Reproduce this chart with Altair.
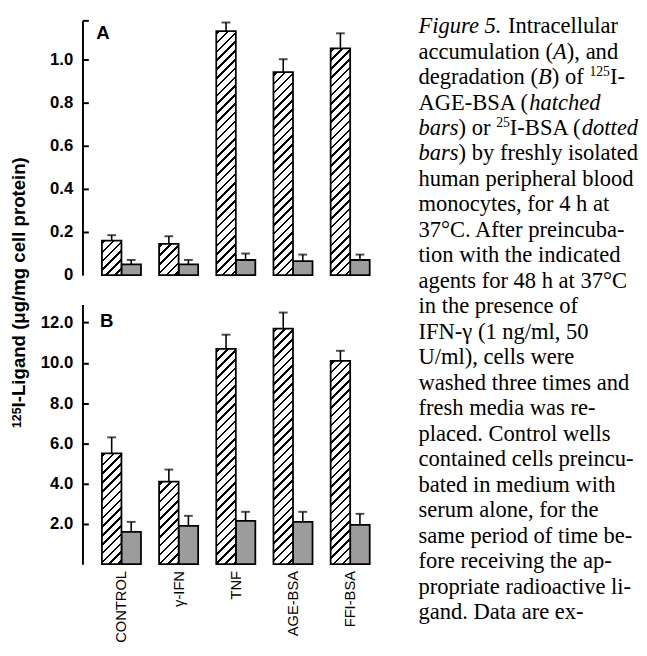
import altair as alt
import pandas as pd

# ---------------- data ----------------
categories = ["CONTROL", "γ-IFN", "TNF", "AGE-BSA", "FFI-BSA"]
series = ["hatched", "dotted"]

# Panel A: intracellular accumulation (bar value and top of error whisker)
a_hatched = [0.16, 0.145, 1.13, 0.94, 1.05]
a_hatched_err = [0.185, 0.18, 1.17, 1.00, 1.12]
a_dotted = [0.05, 0.05, 0.07, 0.065, 0.07]
a_dotted_err = [0.07, 0.07, 0.10, 0.095, 0.095]

# Panel B: degradation
b_hatched = [5.5, 4.1, 10.7, 11.7, 10.1]
b_hatched_err = [6.3, 4.7, 11.4, 12.5, 10.6]
b_dotted = [1.6, 1.9, 2.15, 2.1, 1.95]
b_dotted_err = [2.1, 2.4, 2.6, 2.6, 2.5]

a_ticks = [0, 0.2, 0.4, 0.6, 0.8, 1.0]
b_ticks = [2, 4, 6, 8, 10, 12]

y_title_sup = "125"
y_title_main = "I-Ligand (μg/mg cell protein)"

caption_lines = [
    [("Figure 5.", "i"), (" Intracellular", "r")],
    [("accumulation (", "r"), ("A", "i"), ("), and", "r")],
    [("degradation (", "r"), ("B", "i"), (") of ", "r"), ("125", "s"), ("I-", "r")],
    [("AGE-BSA (", "r"), ("hatched", "i")],
    [("bars", "i"), (") or ", "r"), ("25", "s"), ("I-BSA (", "r"), ("dotted", "i")],
    [("bars", "i"), (") by freshly isolated", "r")],
    [("human peripheral blood", "r")],
    [("monocytes, for 4 h at", "r")],
    [("37°C. After preincuba-", "r")],
    [("tion with the indicated", "r")],
    [("agents for 48 h at 37°C", "r")],
    [("in the presence of", "r")],
    [("IFN-γ (1 ng/ml, 50", "r")],
    [("U/ml), cells were", "r")],
    [("washed three times and", "r")],
    [("fresh media was re-", "r")],
    [("placed. Control wells", "r")],
    [("contained cells preincu-", "r")],
    [("bated in medium with", "r")],
    [("serum alone, for the", "r")],
    [("same period of time be-", "r")],
    [("fore receiving the ap-", "r")],
    [("propriate radioactive li-", "r")],
    [("gand. Data are ex-", "r")],
]

# ---------------- layout / style ----------------
W = 313
TOP_A = 6                      # blank band above panel A inside its view
HA, HB = 260, 265
YMAX_A, YMAX_B = 1.18, 12.9
PAD_IN, PAD_OUT = 0.317, 0.34
SANS = "Liberation Sans"
SERIF = "Liberation Serif"
DOT_FILL = "#9c9c9c"
HATCH_PERIOD, HATCH_LW = 9.0, 2.6
TICK_LABEL_SIZE = 17

step = W / (len(categories) - PAD_IN + 2 * PAD_OUT)
sub_w = step * (1 - PAD_IN) / 2


def hatch(w, h):
    total = w + h
    lam = total / (w * w + h * h)
    stops = [alt.GradientStop(offset=0, color="white")]
    pos = 2.0
    while pos < total:
        a = pos / total
        b = min((pos + HATCH_LW) / total, 1.0)
        stops += [alt.GradientStop(offset=a, color="white"),
                  alt.GradientStop(offset=a, color="black"),
                  alt.GradientStop(offset=b, color="black"),
                  alt.GradientStop(offset=b, color="white")]
        pos += HATCH_PERIOD
    stops.append(alt.GradientStop(offset=1, color="white"))
    return alt.LinearGradient(gradient="linear", stops=stops,
                              x1=0, y1=0, x2=w * lam, y2=h * lam)


def make_df(h, he, d, de):
    rows = []
    for i, c in enumerate(categories):
        rows.append(dict(cat=c, series="hatched", value=h[i], top=he[i]))
        rows.append(dict(cat=c, series="dotted", value=d[i], top=de[i]))
    return pd.DataFrame(rows)


def panel(df, ymax, H, top, letter, lx, ly, label_vals, label_expr, tick_vals, with_labels):
    view_h = H + top
    xs = alt.Scale(domain=categories, paddingInner=PAD_IN, paddingOuter=PAD_OUT)
    xos = alt.Scale(domain=series, paddingInner=0, paddingOuter=0)
    ys = alt.Scale(domain=[0, ymax], nice=False, zero=True, range=[view_h, top])
    xaxis = alt.Axis(labels=False, ticks=False, domain=True, domainColor="black",
                     domainWidth=2, title=None)
    X = alt.X("cat:N", scale=xs, sort=categories, axis=xaxis, title=None)
    Xn = alt.X("cat:N", scale=xs, sort=categories, axis=None)
    XO = alt.XOffset("series:N", scale=xos, sort=series)
    base = alt.Chart(df)
    left_axis = alt.Axis(values=label_vals, labelExpr=label_expr, ticks=False,
                         labelPadding=10, labelFont=SANS, labelFontWeight="bold",
                         labelFontSize=TICK_LABEL_SIZE, labelColor="black", domain=True,
                         domainColor="black", domainWidth=2, title=None, grid=False)
    right_axis = alt.Axis(orient="right", offset=-W, values=tick_vals, labels=False,
                          ticks=True, tickSize=6, tickWidth=2, tickColor="black",
                          domain=False, title=None, grid=False)
    layers = [
        base.transform_filter("datum.series == 'dotted'")
        .mark_bar(fill=DOT_FILL, stroke="black", strokeWidth=1.8)
        .encode(x=X, xOffset=XO, y=alt.Y("value:Q", scale=ys, axis=left_axis))
    ]
    hatched = df[df.series == "hatched"]
    for c, v in zip(hatched.cat, hatched.value):
        hpx = v / ymax * H
        layers.append(
            base.transform_filter(f"datum.series == 'hatched' && datum.cat == '{c}'")
            .mark_bar(fill=hatch(sub_w, hpx), stroke="black", strokeWidth=1.8)
            .encode(x=Xn, xOffset=XO, y=alt.Y("value:Q", scale=ys, axis=None))
        )
    layers.append(
        base.mark_rule(color="black", strokeWidth=1.6)
        .encode(x=Xn, xOffset=XO, y=alt.Y("value:Q", scale=ys, axis=right_axis), y2="top:Q")
    )
    layers.append(
        base.mark_tick(color="black", thickness=2, size=9)
        .encode(x=Xn, xOffset=XO, y=alt.Y("top:Q", scale=ys, axis=None))
    )
    layers.append(
        alt.Chart(pd.DataFrame({"t": [letter]}))
        .mark_text(font=SANS, fontWeight="bold", fontSize=19, align="left",
                   baseline="alphabetic", color="black")
        .encode(x=alt.value(lx), y=alt.value(ly), text="t:N")
    )
    if with_labels:
        layers.append(
            alt.Chart(pd.DataFrame({"cat": categories}))
            .mark_text(font=SANS, fontSize=15, angle=270, align="right",
                       baseline="middle", color="black")
            .encode(x=Xn, y=alt.value(view_h + 7), text="cat:N")
        )
    return alt.layer(*layers).resolve_axis(y="independent").properties(width=W, height=view_h)


df_a = make_df(a_hatched, a_hatched_err, a_dotted, a_dotted_err)
df_b = make_df(b_hatched, b_hatched_err, b_dotted, b_dotted_err)

panel_a = panel(df_a, YMAX_A, HA, TOP_A, "A", 14, TOP_A + 19, a_ticks,
                "datum.value == 0 ? '0' : format(datum.value, '.1f')",
                a_ticks[1:] + [YMAX_A], False)
panel_b = panel(df_b, YMAX_B, HB, 0, "B", 18, 23, b_ticks,
                "format(datum.value, '.1f')", b_ticks, True)

# ---------------- y-axis title (shared) ----------------
title_df = pd.DataFrame({"t": [y_title_main]})
sup_df = pd.DataFrame({"t": [y_title_sup]})
title_chart = alt.layer(
    alt.Chart(title_df).mark_text(font=SANS, fontWeight="bold", fontSize=19, angle=270,
                                  align="left", baseline="alphabetic", color="black")
    .encode(x=alt.value(17.5), y=alt.value(TOP_A + 395), text="t:N"),
    alt.Chart(sup_df).mark_text(font=SANS, fontWeight="bold", fontSize=12.5, angle=270,
                                align="left", baseline="alphabetic", color="black")
    .encode(x=alt.value(13), y=alt.value(TOP_A + 416), text="t:N"),
).properties(width=27, height=TOP_A + HA + 22 + HB)

# ---------------- caption ----------------
REG = {" ": 250, "(": 333, ")": 333, ",": 250, ".": 250, "-": 333, "/": 278,
       "°": 400, "A": 722, "B": 667, "C": 667, "E": 611, "F": 556, "G": 722,
       "I": 333, "N": 722, "S": 556, "U": 722}
REG.update({d: 500 for d in "0123456789"})
REG.update({"a": 444, "b": 500, "c": 444, "d": 500, "e": 444, "f": 333, "g": 500,
            "h": 500, "i": 278, "j": 278, "k": 500, "l": 278, "m": 778, "n": 500,
            "o": 500, "p": 500, "q": 500, "r": 333, "s": 389, "t": 278, "u": 500,
            "v": 500, "w": 722, "x": 500, "y": 500, "z": 444})
ITA = {" ": 250, ".": 250, "5": 500, "A": 611, "B": 611, "F": 611, "a": 500, "b": 500,
       "c": 444, "d": 500, "e": 444, "g": 500, "h": 500, "i": 278, "o": 500, "r": 389,
       "s": 389, "t": 278, "u": 500}
CAP_SIZE = 23
SUP_SIZE = 14
CAP_X, CAP_Y0, CAP_DY, SUP_RAISE = 25, TOP_A + 13, 26.0, -8


def seg_width(text, style):
    if style == "s":
        return sum(500 for _ in text) * SUP_SIZE / 1000
    table = ITA if style == "i" else REG
    return sum(table.get(ch, 500) for ch in text) * CAP_SIZE / 1000


cap_rows = []
for li, segs in enumerate(caption_lines):
    x = CAP_X
    for text, style in segs:
        lead = len(text) - len(text.lstrip(" "))
        x_start = x + seg_width(text[:lead], style)
        y = CAP_Y0 + li * CAP_DY + (SUP_RAISE if style == "s" else 0)
        cap_rows.append(dict(px=x_start, py=y, text=text.strip(" "), style=style))
        x += seg_width(text, style)
cap_df = pd.DataFrame(cap_rows)


def cap_layer(style, **kw):
    return (alt.Chart(cap_df).transform_filter(f"datum.style == '{style}'")
            .mark_text(font=SERIF, align="left", baseline="alphabetic", color="black", **kw)
            .encode(x=alt.X("px:Q", scale=None, axis=None),
                    y=alt.Y("py:Q", scale=None, axis=None), text="text:N"))


caption_chart = alt.layer(
    cap_layer("r", fontSize=CAP_SIZE),
    cap_layer("i", fontSize=CAP_SIZE, fontStyle="italic"),
    cap_layer("s", fontSize=SUP_SIZE),
).properties(width=236, height=TOP_A + HA + 22 + HB)

chart = alt.hconcat(
    title_chart,
    alt.vconcat(panel_a, panel_b, spacing=22),
    caption_chart,
    spacing=5,
).properties(padding={"left": 0, "top": 0, "right": 0, "bottom": 0}
).configure_view(stroke=None)

chart.save("out.html", embed_options={"renderer": "svg", "actions": False})
